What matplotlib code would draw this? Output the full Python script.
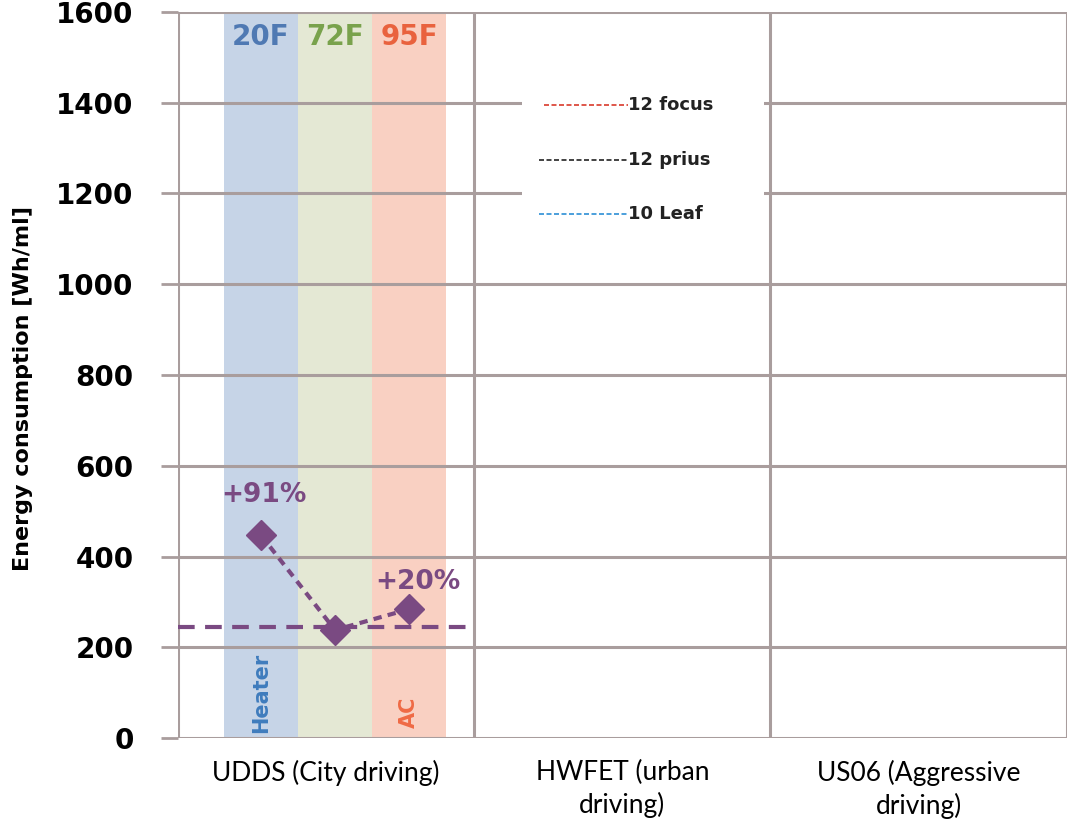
import matplotlib
matplotlib.use("Agg")
import matplotlib.pyplot as plt

categories = ["UDDS (City driving)", "HWFET (urban\ndriving)", "US06 (Aggressive\ndriving)"]
yticks = [0, 200, 400, 600, 800, 1000, 1200, 1400, 1600]
temps = ["20F", "72F", "95F"]
temp_x = [-0.22, 0.03, 0.28]
consumption = [447, 238, 284]
baseline = 245
pct_labels = ["+91%", "", "+20%"]
legend_names = ["12 focus", "12 prius", "10 Leaf"]
legend_colors = ["#d9392b", "#222222", "#2c8fd6"]

band_colors = ["#c6d4e7", "#e4e8d4", "#f9d0c2"]
text_colors = ["#4f79b3", "#79a24c", "#e9623e"]
purple = "#7a4a82"
grid_c = "#a99d9d"

fig = plt.figure(figsize=(10.68, 8.26), dpi=100)
ax = fig.add_axes([0.1667, 0.1065, 0.832, 0.879])
ax.set_xlim(-0.5, 2.5)
ax.set_ylim(0, 1600)

band_w = 0.25
for xc, bc, tc, t in zip(temp_x, band_colors, text_colors, temps):
    ax.axvspan(xc - band_w / 2, xc + band_w / 2, color=bc, zorder=0, lw=0)
    ax.text(xc, 1545, t, color=tc, ha="center", va="center", fontsize=20,
            fontweight="bold", family="DejaVu Sans", zorder=3)

ax.text(temp_x[0], 99, "Heater", color="#3f7cbd", rotation=90, ha="center",
        va="center", fontsize=15, fontweight="bold", zorder=3)
ax.text(temp_x[2], 57, "AC", color="#ef6a45", rotation=90, ha="center",
        va="center", fontsize=15, fontweight="bold", zorder=3)

for y in yticks:
    ax.axhline(y, color=grid_c, lw=2.2, zorder=1)
for x in [-0.5, 0.5, 1.5, 2.5]:
    ax.axvline(x, color=grid_c, lw=2.2, zorder=1)

ax.axhline(baseline, xmin=0, xmax=1 / 3, color=purple, lw=3, ls=(0, (4, 2.5)), zorder=4)
ax.plot(temp_x, consumption, color=purple, lw=3, ls=(0, (2, 1.5)), marker="D",
        markersize=15, markerfacecolor=purple, markeredgecolor=purple, zorder=5)
ax.text(temp_x[0] + 0.01, consumption[0] + 88, pct_labels[0], color=purple,
        ha="center", va="center", fontsize=19, fontweight="bold", zorder=6)
ax.text(temp_x[2] + 0.03, consumption[2] + 59, pct_labels[2], color=purple,
        ha="center", va="center", fontsize=19, fontweight="bold", zorder=6)

# legend-like box
ax.add_patch(plt.Rectangle((0.66, 1140), 0.82, 320, facecolor="white",
                           edgecolor="none", zorder=2))
leg_y = [1394, 1274, 1154]
for yy, name, col, x0 in zip(leg_y, legend_names, legend_colors, [0.735, 0.718, 0.718]):
    ax.plot([x0, 1.02], [yy, yy], color=col, lw=1.2, ls=(0, (3, 1.5)), zorder=3)
    ax.text(1.02, yy, name, ha="left", va="center", fontsize=13,
            fontweight="bold", color="#222222", zorder=3)

ax.set_yticks(yticks)
ax.set_yticklabels([str(v) for v in yticks], fontsize=20, fontweight="bold")
ax.set_xticks([0, 1, 2])
ax.set_xticklabels(categories, fontsize=19, family="Lato", linespacing=1.3)
ax.tick_params(axis="x", length=0, pad=16)
ax.tick_params(axis="y", length=12, width=2, color=grid_c, pad=20)
for s in ax.spines.values():
    s.set_visible(False)

fig.text(0.022, 0.53, "Energy consumption [Wh/ml]", rotation=90, ha="center",
         va="center", fontsize=16, fontweight="bold")

fig.savefig("out.png", dpi=100)
